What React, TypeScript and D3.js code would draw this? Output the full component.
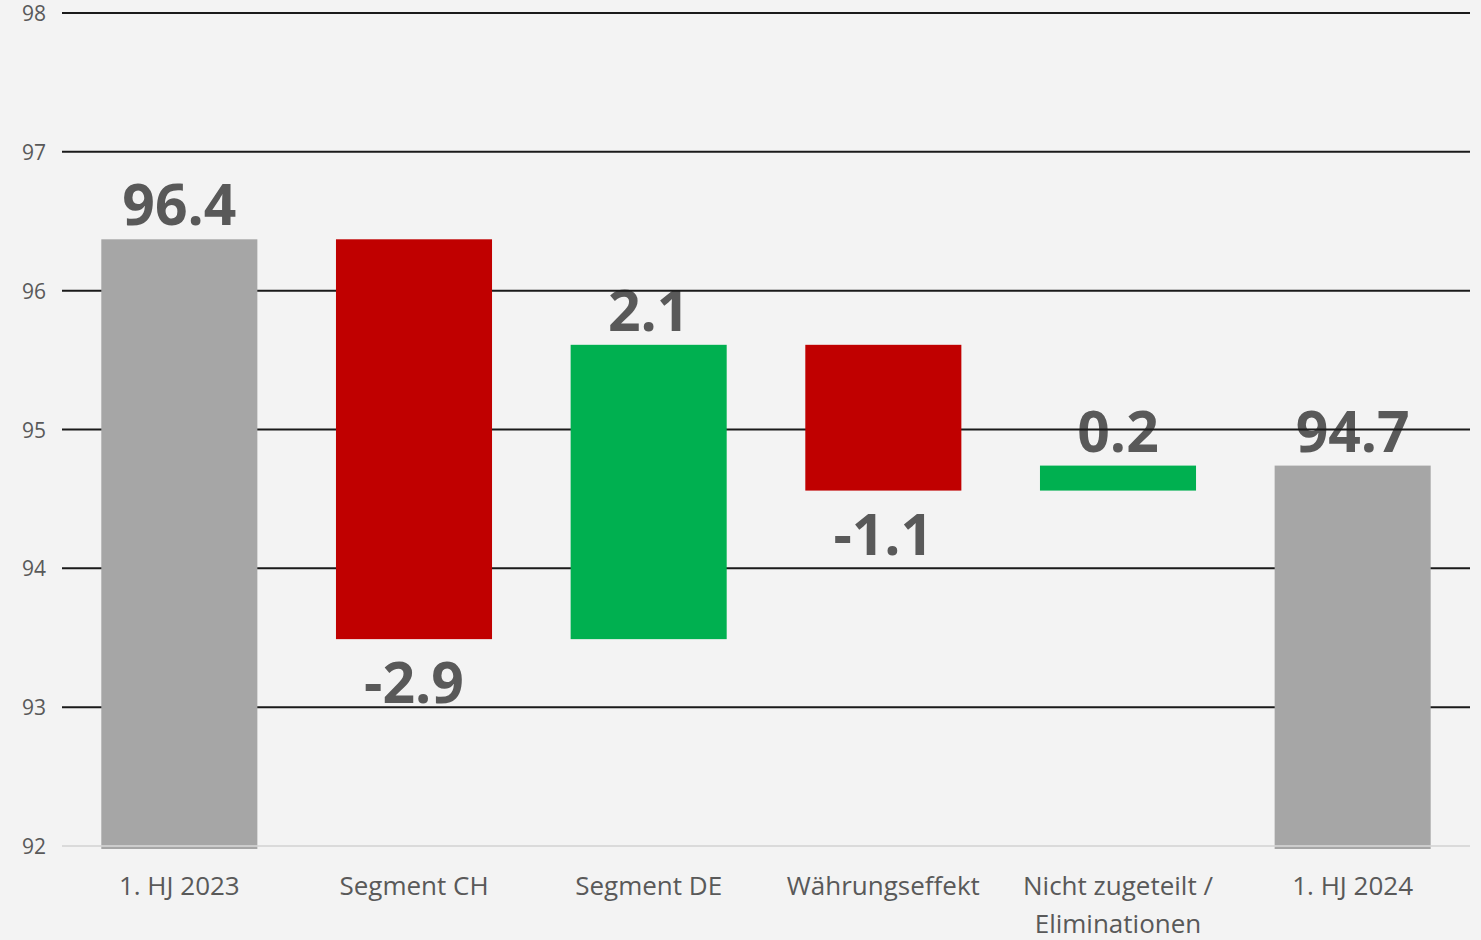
import React from "react";
import * as d3 from "d3";

const categories: string[][] = [
  ["1. HJ 2023"],
  ["Segment CH"],
  ["Segment DE"],
  ["Währungseffekt"],
  ["Nicht zugeteilt /", "Eliminationen"],
  ["1. HJ 2024"],
];
const values: number[] = [96.37, -2.88, 2.12, -1.05, 0.18, 94.74];
const kinds: string[] = ["total", "delta", "delta", "delta", "delta", "total"];
const valueLabels: string[] = ["96.4", "-2.9", "2.1", "-1.1", "0.2", "94.7"];
const yTicks: number[] = [92, 93, 94, 95, 96, 97, 98];

const W = 1481;
const H = 940;
const M = { left: 62, right: 11, top: 13, bottom: 94 };

export default function App() {
  const x = d3
    .scaleBand<number>()
    .domain(d3.range(categories.length))
    .range([M.left, W - M.right])
    .paddingInner(0.335)
    .paddingOuter(0.1675);
  const y = d3.scaleLinear().domain([92, 98]).range([H - M.bottom, M.top]);

  let running = 0;
  const bars = values.map((v, i) => {
    let lo: number, hi: number, color: string;
    if (kinds[i] === "total") {
      lo = 92;
      hi = v;
      running = v;
      color = "#a6a6a6";
    } else {
      const start = running;
      const end = running + v;
      lo = Math.min(start, end);
      hi = Math.max(start, end);
      running = end;
      color = v < 0 ? "#c00000" : "#00b050";
    }
    return { lo, hi, color, v, i };
  });

  const bw = x.bandwidth();
  const font = "'Open Sans', 'DejaVu Sans', sans-serif";

  return (
    <div style={{ position: "fixed", left: 0, top: 0 }}>
      <svg width={W} height={H} style={{ display: "block", background: "#f3f3f3" }}>
        <rect x={0} y={0} width={W} height={H} fill="#f3f3f3" />
        {/* value labels */}
        {bars.map((b) => {
          const cx = (x(b.i) as number) + bw / 2;
          const isNeg = b.v < 0;
          const yy = isNeg ? y(b.lo) + 64 : y(b.hi) - 14;
          return (
            <text
              key={"vl" + b.i}
              x={cx}
              y={yy}
              textAnchor="middle"
              fontFamily={font}
              fontWeight={700}
              fontSize={57}
              fill="#595959"
            >
              {valueLabels[b.i]}
            </text>
          );
        })}
        {/* gridlines */}
        {yTicks.map((t) => (
          <line
            key={"g" + t}
            x1={M.left}
            x2={W - M.right}
            y1={y(t)}
            y2={y(t)}
            stroke={t === 92 ? "#d9d9d9" : "#1a1a1a"}
            strokeWidth={t === 92 ? 1.5 : 2}
          />
        ))}
        {/* y tick labels */}
        {yTicks.map((t) => (
          <text
            key={"yt" + t}
            x={46}
            y={y(t) + 8}
            textAnchor="end"
            fontFamily={font}
            fontSize={21}
            fill="#595959"
          >
            {t}
          </text>
        ))}
        {/* bars */}
        {bars.map((b) => (
          <rect
            key={"b" + b.i}
            x={x(b.i) as number}
            y={y(b.hi)}
            width={bw}
            height={y(b.lo) - y(b.hi) + (kinds[b.i] === "total" ? 3 : 0)}
            fill={b.color}
          />
        ))}
        {/* baseline over totals */}
        <line
          x1={M.left}
          x2={W - M.right}
          y1={y(92)}
          y2={y(92)}
          stroke="#d9d9d9"
          strokeWidth={1.5}
        />
        {/* category labels */}
        {categories.map((lines, i) => (
          <text
            key={"c" + i}
            x={(x(i) as number) + bw / 2}
            y={H - M.bottom + 49}
            textAnchor="middle"
            fontFamily={font}
            fontSize={26}
            fill="#595959"
          >
            {lines.map((ln, k) => (
              <tspan key={k} x={(x(i) as number) + bw / 2} dy={k === 0 ? 0 : 38}>
                {ln}
              </tspan>
            ))}
          </text>
        ))}
      </svg>
    </div>
  );
}
